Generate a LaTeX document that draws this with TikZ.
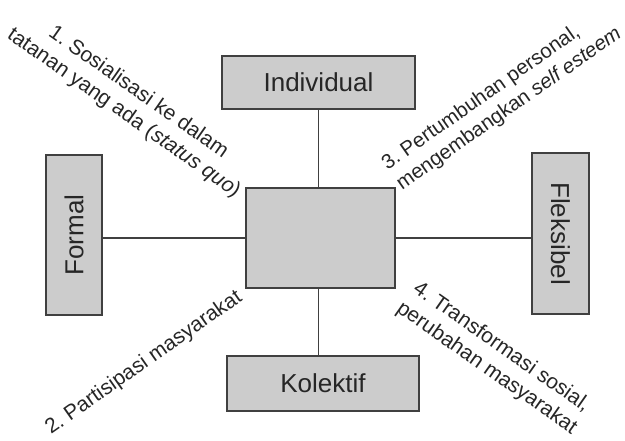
\documentclass[tikz,border=0pt]{standalone}
\usepackage{fontspec}
\setmainfont{Liberation Sans}
\usetikzlibrary{positioning}

\begin{document}
\begin{tikzpicture}[x=1pt,y=-1pt,
		box/.style={draw=black!75, line width=1.3pt, fill=black!20, text=black!85, inner sep=0pt, font=\fontsize{26}{31}\selectfont},
		lbl/.style={text=black!85, inner sep=0pt, font=\fontsize{21}{25.5}\selectfont\frenchspacing},
		link/.style={draw=black!75, line width=1.3pt}]
	\useasboundingbox (0,0) rectangle (625,441);

	\node[box, minimum width=149pt, minimum height=100pt](ctr) at (320.5,238) {};
	\node[box, minimum width=193pt, minimum height=53pt](ind) at (318.5,82.5) {Individual};
	\node[box, minimum width=192pt, minimum height=55pt](kol) at (323,383.5) {Kolektif};
	\node[box, rotate=90, minimum width=160pt, minimum height=56pt](frm) at (74,235) {Formal};
	\node[box, rotate=-90, minimum width=161pt, minimum height=57pt](flx) at (560.5,233.5) {Fleksibel};

	\draw[link] (ind.south) -- (ind.south |- ctr.north);
	\draw[link] (ctr.south -| ind.south) -- (kol.north -| ind.south);
	\draw[link] (ctr.west) -- (ctr.west -| frm.south);
	\draw[link] (ctr.east) -- (ctr.east -| flx.south);

	\node[lbl, rotate=-35, align=center](l1) at (131,103) {1. Sosialisasi ke dalam\\tatanan yang ada (\textit{status quo})};
	\node[lbl, rotate=35](l2) at (144,363) {2. Partisipasi masyarakat};
	\node[lbl, rotate=35, align=left, font=\fontsize{20.5}{25}\selectfont\frenchspacing](l3) at (502,99) {3. Pertumbuhan personal,\\mengembangkan \textit{self esteem}};
	\node[lbl, rotate=-35, align=center](l4) at (494,358) {4. Transformasi sosial,\\perubahan masyarakat};
\end{tikzpicture}
\end{document}
